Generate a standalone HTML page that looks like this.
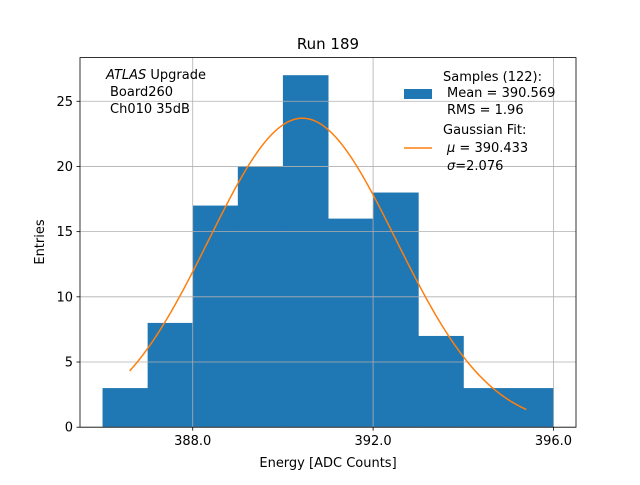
<!DOCTYPE html>
<html><head><meta charset="utf-8"><style>
body{margin:0;background:#fff}
text{font-family:"DejaVu Sans","Liberation Sans",sans-serif;fill:#000}
</style></head><body>
<svg id="chart" width="640" height="480" xmlns="http://www.w3.org/2000/svg">
<g id="bars"></g>
<g id="grid"></g>
<path id="fit" fill="none" stroke="#ff7f0e" stroke-width="1.5"/>
<rect x="80" y="57.6" width="496" height="369.6" fill="none" stroke="#000" stroke-width="0.8"/>
<g id="ticks"></g>
<text x="328" y="49" text-anchor="middle" font-size="15">Run 189</text>
<text x="328" y="467" text-anchor="middle" font-size="13">Energy [ADC Counts]</text>
<text transform="translate(44,242) rotate(-90)" text-anchor="middle" font-size="13">Entries</text>
<g font-size="13">
<text x="106" y="79"><tspan font-style="italic">ATLAS</tspan> Upgrade</text>
<text x="110" y="96">Board260</text>
<text x="110" y="113">Ch010 35dB</text>
</g>
<g font-size="13">
<rect x="404" y="89" width="28" height="10" fill="#1f77b4"/>
<text x="443" y="81">Samples (122):</text>
<text x="447" y="97">Mean = 390.569</text>
<text x="447" y="114">RMS = 1.96</text>
<line x1="404" y1="148" x2="432" y2="148" stroke="#ff7f0e" stroke-width="1.5"/>
<text x="443" y="134">Gaussian Fit:</text>
<text x="447" y="152"><tspan font-style="italic">μ</tspan> = 390.433</text>
<text x="447" y="170"><tspan font-style="italic">σ</tspan>=2.076</text>
</g>
</svg>
<script>
const binEdges=[386,387,388,389,390,391,392,393,394,395,396];
const counts=[3,8,17,20,27,16,18,7,3,3];
const xTicks=[388,392,396];
const xTickLabels=["388.0","392.0","396.0"];
const yTicks=[0,5,10,15,20,25];
const fitMu=390.433, fitSigma=2.076, fitAmp=23.7, fitMin=386.6, fitMax=395.4;
const X=v=>80+(v-385.5)/11*496;
const Y=v=>427.2-v/28.35*369.6;
const ns="http://www.w3.org/2000/svg";
function mk(tag,attrs,parent){const e=document.createElementNS(ns,tag);for(const k in attrs)e.setAttribute(k,attrs[k]);parent.appendChild(e);return e;}
const bars=document.getElementById('bars');
counts.forEach((c,i)=>{
 const r=mk('rect',{x:X(binEdges[i]),y:Y(c),width:X(binEdges[i+1])-X(binEdges[i])+0.5,height:Y(0)-Y(c),fill:'#1f77b4'},bars);
 
 
});
const grid=document.getElementById('grid'),ticks=document.getElementById('ticks');
xTicks.forEach((t,i)=>{
 const g=mk('line',{x1:X(t),x2:X(t),y1:57.6,y2:427.2,stroke:'#b0b0b0','stroke-width':0.8},grid);
 
 
 mk('line',{x1:X(t),x2:X(t),y1:427.2,y2:430.7,stroke:'#000','stroke-width':0.8},ticks);
 const tx=mk('text',{x:X(t),y:445,'text-anchor':'middle','font-size':13},ticks);
 tx.textContent=xTickLabels[i];
 
 
});
yTicks.forEach(t=>{
 const g=mk('line',{x1:80,x2:576,y1:Y(t),y2:Y(t),stroke:'#b0b0b0','stroke-width':0.8},grid);
 
 
 mk('line',{x1:76.5,x2:80,y1:Y(t),y2:Y(t),stroke:'#000','stroke-width':0.8},ticks);
 const tx=mk('text',{x:73,y:Y(t)+4.5,'text-anchor':'end','font-size':13},ticks);
 tx.textContent=t;
 
 
});
let d='';
for(let i=0;i<=200;i++){const v=fitMin+(fitMax-fitMin)*i/200;const y=fitAmp*Math.exp(-0.5*((v-fitMu)/fitSigma)**2);d+=(i?'L':'M')+X(v).toFixed(2)+','+Y(y).toFixed(2);}
document.getElementById('fit').setAttribute('d',d);
</script>
</body></html>
